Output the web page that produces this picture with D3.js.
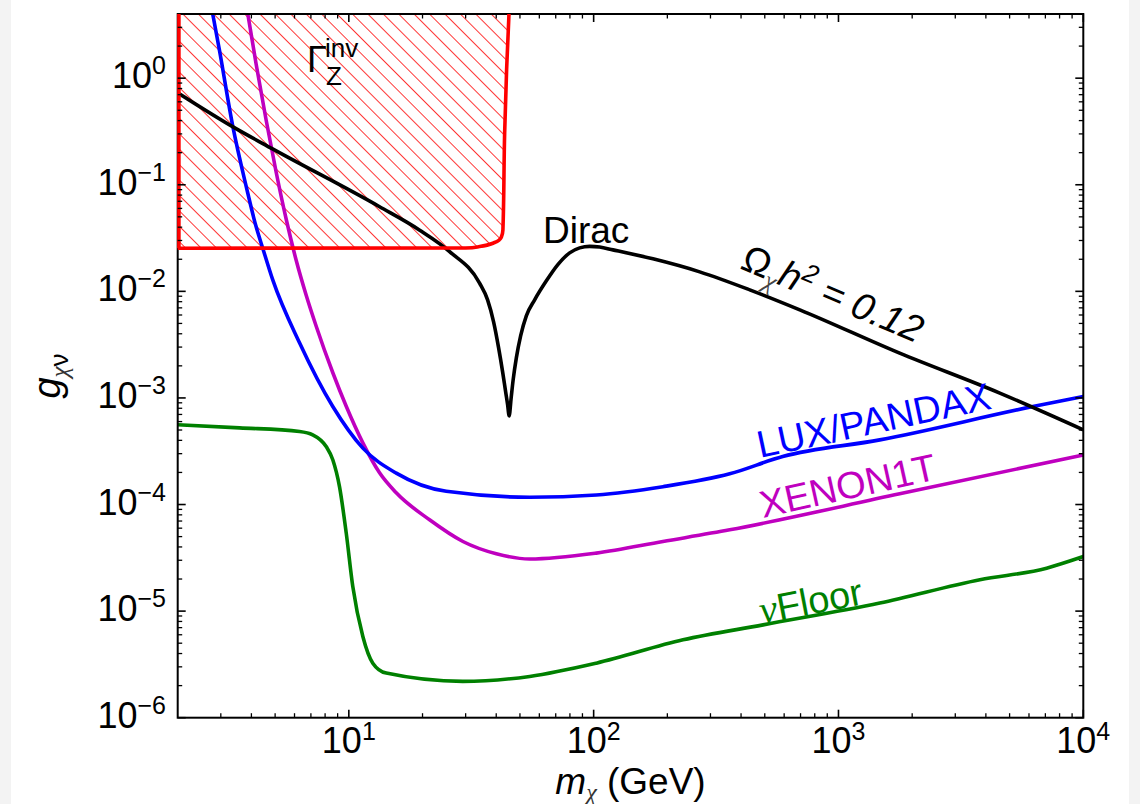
<!DOCTYPE html>
<html><head><meta charset="utf-8">
<script src="https://cdn.jsdelivr.net/npm/d3@7"></script>
<style>
body{margin:0;background:#fff;}
svg{display:block;}
text{font-family:"Liberation Sans",Arial,Helvetica,sans-serif;}
</style>
</head><body>
<svg id="c" width="1140" height="804"></svg>
<script>
// ---------- data ----------
const xDomain = [2, 1e4];
const yDomain = [1e-6, 4];
const xTickVals = [10, 100, 1000, 10000];
const xTickExp = ["1", "2", "3", "4"];
const yTickVals = [1, 0.1, 0.01, 1e-3, 1e-4, 1e-5, 1e-6];
const yTickExp = ["0", "\u22121", "\u22122", "\u22123", "\u22124", "\u22125", "\u22126"];

// Dirac relic line (Omega h^2 = 0.12)
const diracM = [2, 3.35, 4.88, 13.3, 19.4, 25.8, 34.2, 36.88, 39.02, 40.91, 42.48, 43.70, 44.53, 45.17, 46.03, 46.90, 48.33, 50.32, 53.09, 57.41, 64.10, 71.27, 79.80, 87.67, 96.32, 105.8, 119.9, 174.7, 271.1, 434.1, 695.0, 1778, 4560, 10000];
const diracG = [0.73, 0.351, 0.217, 0.0625, 0.0377, 0.0236, 0.01194, 0.008323, 0.005175, 0.002951, 0.001757, 0.001141, 8.615e-4, 6.79e-4, 1.002e-3, 1.478e-3, 2.377e-3, 3.824e-3, 5.891e-3, 8.323e-3, 0.01255, 0.01772, 0.02297, 0.02559, 0.02643, 0.02604, 0.0245, 0.02018, 0.01524, 0.01033, 0.006708, 0.00263, 0.00111, 0.000502];

// LUX/PANDAX
const luxM = [2.78, 2.96, 3.36, 3.81, 4.18, 4.45, 4.89, 6.29, 8.60, 11.41, 15.62, 25.0, 54.8, 102.6, 191.9, 359.5, 591.6, 1475, 6223, 10000];
const luxG = [4.0, 1.84, 0.351, 0.0962, 0.0405, 0.0254, 0.0128, 0.00329, 8.30e-4, 3.38e-4, 1.97e-4, 1.33e-4, 1.17e-4, 1.23e-4, 1.47e-4, 1.94e-4, 2.82e-4, 4.04e-4, 8.30e-4, 1.03e-3];

// XENON1T
const xenM = [3.867, 4.183, 4.596, 5.050, 5.549, 6.095, 6.697, 7.358, 8.603, 9.758, 11.41, 13.35, 15.62, 21.37, 29.24, 40.04, 54.8, 102.6, 191.9, 359.5, 1778, 10000];
const xenG = [4.0, 1.350, 0.4028, 0.1310, 0.04747, 0.01957, 0.009191, 0.004707, 0.001723, 8.36e-4, 3.79e-4, 1.984e-4, 1.288e-4, 7.19e-5, 4.50e-5, 3.45e-5, 3.08e-5, 3.50e-5, 4.50e-5, 5.79e-5, 1.26e-4, 2.92e-4];

// neutrino floor
const nuM = [2, 3.58, 6.29, 7.12, 8.08, 8.60, 9.16, 9.76, 10.38, 11.41, 12.53, 14.22, 29.2, 54.8, 102.6, 231.7, 492, 1475, 3782, 7080, 10000];
const nuG = [5.6e-4, 5.24e-4, 4.84e-4, 4.51e-4, 3.50e-4, 2.63e-4, 1.47e-4, 5.39e-5, 1.70e-5, 5.78e-6, 3.25e-6, 2.62e-6, 2.19e-6, 2.44e-6, 3.25e-6, 5.38e-6, 7.43e-6, 1.19e-5, 1.97e-5, 2.53e-5, 3.25e-5];

// invisible Z width exclusion boundary
const zinvM = [2, 2, 30, 34.2, 39.4, 41.96, 42.6, 43.3, 44.1, 45.1];
const zinvG = [4.0, 0.0254, 0.0255, 0.0263, 0.0287, 0.0322, 0.0377, 0.307, 1.2, 4.0];

// ---------- drawing ----------
const svg = d3.select("#c");
const L = 177.7, R = 1083.3, T = 14, B = 717.7;
const x = d3.scaleLog().domain(xDomain).range([L, R]);
const y = d3.scaleLog().domain(yDomain).range([B, T]);

// page side shading
svg.append("rect").attr("x",0).attr("y",0).attr("width",11).attr("height",804).attr("fill","#f3f3f3");
svg.append("rect").attr("x",1129).attr("y",0).attr("width",11).attr("height",804).attr("fill","#f3f3f3");

const defs = svg.append("defs");
defs.append("clipPath").attr("id","clip").append("rect")
  .attr("x",L).attr("y",T).attr("width",R-L).attr("height",B-T);
const pat = defs.append("pattern").attr("id","hatch")
  .attr("patternUnits","userSpaceOnUse").attr("width",12).attr("height",10.9)
  .attr("patternTransform","rotate(45)");
pat.append("line").attr("x1",-1).attr("x2",13).attr("y1",0.5).attr("y2",0.5)
  .attr("stroke","#ff2020").attr("stroke-width",0.9);

const pts = (M,G)=>M.map((m,i)=>[x(m), y(G[i])]);
const lineM = d3.line().curve(d3.curveMonotoneX);

const plot = svg.append("g").attr("clip-path","url(#clip)");

// hatch fill
const zp = pts(zinvM, zinvG);
plot.append("path").attr("d", d3.line()(zp.concat([zp[0]])))
  .attr("fill","url(#hatch)").attr("stroke","none");

// curves
const SW = 3.6;
plot.append("path").attr("d", lineM(pts(nuM,nuG))).attr("fill","none")
  .attr("stroke","#008000").attr("stroke-width",SW);
plot.append("path").attr("d", lineM(pts(xenM,xenG))).attr("fill","none")
  .attr("stroke","#bf00bf").attr("stroke-width",SW);
plot.append("path").attr("d", lineM(pts(luxM,luxG))).attr("fill","none")
  .attr("stroke","#0000ff").attr("stroke-width",SW);
plot.append("path").attr("d", lineM(pts(diracM,diracG))).attr("fill","none")
  .attr("stroke","#000").attr("stroke-width",SW).attr("stroke-linejoin","round");

// frame
svg.append("rect").attr("x",L).attr("y",T).attr("width",R-L).attr("height",B-T)
  .attr("fill","none").attr("stroke","#000").attr("stroke-width",2);

// red boundary (on top of the frame)
svg.append("path").attr("d", d3.line().curve(d3.curveMonotoneY)(zp.slice(1)))
  .attr("fill","none").attr("stroke","#ff0000").attr("stroke-width",3.6);
svg.append("line").attr("x1",L+1.2).attr("x2",L+1.2).attr("y1",T).attr("y2",y(zinvG[1]))
  .attr("stroke","#ff0000").attr("stroke-width",3.6);

// ticks
const tk = svg.append("g").attr("stroke","#000");
function minors(lo, hi){
  const out=[];
  for(let e=-7;e<=5;e++){ for(let k=2;k<=9;k++){ const v=k*Math.pow(10,e); if(v>lo*1.0001 && v<hi*0.9999) out.push(v);} }
  return out;
}
const xMin = minors(xDomain[0], xDomain[1]);
const yMin = minors(yDomain[0], yDomain[1]);
xTickVals.forEach(v=>{ const px=x(v);
  tk.append("line").attr("x1",px).attr("x2",px).attr("y1",B).attr("y2",B-8).attr("stroke-width",1.6);
  tk.append("line").attr("x1",px).attr("x2",px).attr("y1",T).attr("y2",T+8).attr("stroke-width",1.6);
});
xMin.forEach(v=>{ const px=x(v);
  tk.append("line").attr("x1",px).attr("x2",px).attr("y1",B).attr("y2",B-4.5).attr("stroke-width",1.3);
  tk.append("line").attr("x1",px).attr("x2",px).attr("y1",T).attr("y2",T+4.5).attr("stroke-width",1.3);
});
yTickVals.forEach(v=>{ const py=y(v);
  tk.append("line").attr("x1",L).attr("x2",L+8).attr("y1",py).attr("y2",py).attr("stroke-width",1.6);
  tk.append("line").attr("x1",R).attr("x2",R-8).attr("y1",py).attr("y2",py).attr("stroke-width",1.6);
});
yMin.forEach(v=>{ const py=y(v);
  tk.append("line").attr("x1",L).attr("x2",L+4.5).attr("y1",py).attr("y2",py).attr("stroke-width",1.3);
  tk.append("line").attr("x1",R).attr("x2",R-4.5).attr("y1",py).attr("y2",py).attr("stroke-width",1.3);
});

// tick labels
yTickVals.forEach((v,i)=>{
  const t = svg.append("text").attr("x",166).attr("y",y(v)+10).attr("text-anchor","end").attr("fill","#000");
  t.append("tspan").attr("font-size",36).text("10");
  t.append("tspan").attr("font-size",25).attr("dy",-14).text(yTickExp[i]);
});
xTickVals.forEach((v,i)=>{
  const t = svg.append("text").attr("x",x(v)).attr("y",753).attr("text-anchor","middle").attr("fill","#000");
  t.append("tspan").attr("font-size",36).text("10");
  t.append("tspan").attr("font-size",25).attr("dy",-13).text(xTickExp[i]);
});

// axis labels
const xl = svg.append("text").attr("x",(L+R)/2).attr("y",794).attr("text-anchor","middle").attr("fill","#000");
xl.append("tspan").attr("font-size",37).attr("font-style","italic").text("m");
xl.append("tspan").attr("font-size",24).attr("dy",6).attr("font-family","Liberation Serif").attr("font-style","italic").attr("fill","#333").text("\u03C7");
xl.append("tspan").attr("font-size",37).attr("dy",-6).text(" (GeV)");

const yl = svg.append("text").attr("transform","translate(60,376) rotate(-90)").attr("text-anchor","middle").attr("fill","#000");
yl.append("tspan").attr("font-size",38).attr("font-style","italic").text("g");
yl.append("tspan").attr("font-size",25).attr("dy",8).attr("font-family","Liberation Serif").attr("font-style","italic").attr("fill","#333").text("\u03C7");
yl.append("tspan").attr("font-size",26).text("\u03BD");

// annotations
const gz = svg.append("g");
gz.append("text").attr("x",307).attr("y",72).attr("font-size",36).text("\u0393");
gz.append("text").attr("x",325).attr("y",57).attr("font-size",26).text("inv");
gz.append("text").attr("x",326).attr("y",85).attr("font-size",26).text("Z");

svg.append("text").attr("x",543).attr("y",243).attr("font-size",37).attr("fill","#000").text("Dirac");

const om = svg.append("text").attr("transform","translate(739,268) rotate(23)").attr("fill","#000");
om.append("tspan").attr("font-size",38).text("\u03A9");
om.append("tspan").attr("font-size",26).attr("dy",8).attr("font-family","Liberation Serif").attr("font-style","italic").attr("fill","#444").text("\u03C7");
om.append("tspan").attr("font-size",38).attr("dy",-8).attr("font-style","italic").text("h");
om.append("tspan").attr("font-size",26).attr("dy",-14).attr("font-style","italic").text("2");
om.append("tspan").attr("font-size",38).attr("dy",14).attr("font-style","italic").text(" = 0.12");

svg.append("text").attr("transform","translate(760,458) rotate(-12)").attr("font-size",38)
  .attr("fill","#0000ff").text("LUX/PANDAX");
svg.append("text").attr("transform","translate(763,518) rotate(-12.5)").attr("font-size",38)
  .attr("fill","#bf00bf").text("XENON1T");
const nf = svg.append("text").attr("transform","translate(762,624) rotate(-11)").attr("fill","#008000");
nf.append("tspan").attr("font-size",40).attr("font-family","Liberation Serif").attr("font-style","italic").text("\u03BD");
nf.append("tspan").attr("font-size",38).text("Floor");
</script>
</body></html>
